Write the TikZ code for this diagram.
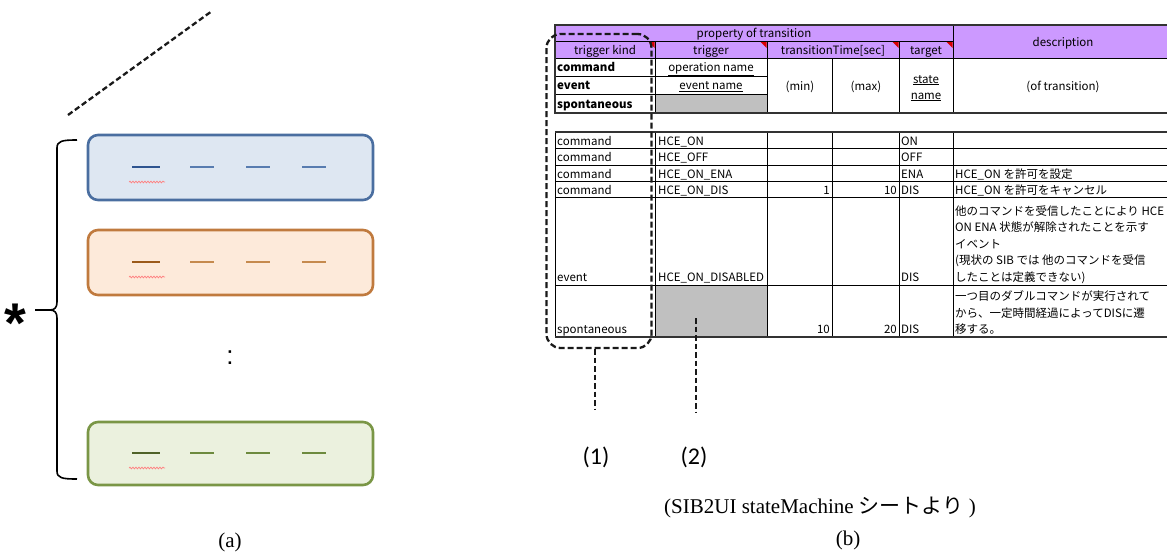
\documentclass[tikz,border=0pt]{standalone}
\usepackage{fontspec}
\setmainfont{Liberation Serif}
\newfontfamily\jpfont{Noto Sans CJK JP}
\newfontfamily\calfont{Carlito}
\newfontfamily\arialfont{Liberation Sans}
\usetikzlibrary{decorations.pathmorphing}

\definecolor{hdrfill}{RGB}{204,153,255}
\definecolor{cellgray}{RGB}{192,192,192}
\definecolor{bluefill}{RGB}{222,231,242}
\definecolor{bluedraw}{RGB}{74,110,160}
\definecolor{bluedark}{RGB}{46,84,144}
\definecolor{bluelite}{RGB}{88,124,176}
\definecolor{orfill}{RGB}{253,234,218}
\definecolor{ordraw}{RGB}{192,122,62}
\definecolor{ordark}{RGB}{155,90,26}
\definecolor{orlite}{RGB}{197,138,78}
\definecolor{grfill}{RGB}{235,241,222}
\definecolor{grdraw}{RGB}{122,150,70}
\definecolor{grdark}{RGB}{79,98,40}
\definecolor{grlite}{RGB}{109,138,62}

\tikzset{
  roundbox/.style={rounded corners=10pt, line width=2.6pt, minimum width=285pt,
    minimum height=65pt, inner sep=0pt},
  dashline/.style={line width=2.3pt, dash pattern=on 5.5pt off 3pt, draw=black!90},
  squig/.style={draw=red!50, line width=0.7pt, decorate,
    decoration={snake, amplitude=0.9pt, segment length=3pt}},
  thinrule/.style={line width=0.8pt, draw=black},
  thickrule/.style={line width=1.6pt, draw=black!80},
  cell/.style={font=\jpfont\fontsize{11.5}{13}\selectfont, inner sep=0pt},
  cellw/.style={cell, anchor=base west},
  celle/.style={cell, anchor=base east},
  cellc/.style={cell, anchor=base},
  boldcell/.style={cellw, font=\jpfont\bfseries\fontsize{11.5}{13}\selectfont},
  grpbox/.style={draw=black!90, line width=2.3pt, dash pattern=on 6pt off 3pt,
    rounded corners=14pt, minimum width=105pt, minimum height=314pt, inner sep=0pt},
  captfont/.style={font=\fontsize{21}{25}\selectfont, inner sep=0pt},
  numlabel/.style={font=\calfont\fontsize{24}{28}\selectfont, inner sep=0pt},
  corner/.style={fill=red!85!black},
}

% placeholder fields inside a record: y, dark colour, light colour
\newcommand\fieldrow[3]{%
  \draw[line width=2.6pt, #2] (132,#1) -- (160,#1);
  \foreach \xa in {190,246,302} \draw[line width=1.5pt, #3] (\xa,#1) -- ++(24,0);
  \draw[squig] (129,#1+15) -- (165,#1+15);
}

\begin{document}
\begin{tikzpicture}[x=1pt, y=-1pt]
\useasboundingbox (0,0) rectangle (1167,552);

% ---------------- (a) record list ----------------
\coordinate (diagA) at (68,115);
\coordinate (diagB) at (212,11);
\draw[dashline] (diagA) -- (diagB);

\node[roundbox, draw=bluedraw, fill=bluefill] (box1) at (230.5,167.5) {};
\node[roundbox, draw=ordraw, fill=orfill] (box2) at (230.5,262.5) {};
\node[roundbox, draw=grdraw, fill=grfill, minimum height=63pt] (box3) at (230.5,453.5) {};

\fieldrow{167}{bluedark}{bluelite}
\fieldrow{262}{ordark}{orlite}
\fieldrow{453}{grdark}{grlite}

\node[font=\arialfont\fontsize{26}{26}\selectfont, anchor=base, inner sep=0pt] (vdots) at (230,364) {:};

% brace grouping the records
\draw[line width=1.6pt] (77,140) .. controls (62,140) and (57,141) .. (57,148) -- (57,302)
  .. controls (57,307) and (55,310) .. (50,310)
  .. controls (55,310) and (57,313) .. (57,318) -- (57,471)
  .. controls (57,478) and (62,479) .. (77,479);
\draw[line width=1.6pt] (35,310) -- (50,310);
\node[font=\arialfont\bfseries\fontsize{56}{56}\selectfont, anchor=base, inner sep=0pt] (star) at (15,342) {*};

\node[captfont] (capa) at (230,542) {(a)};

% ---------------- (b) transition table ----------------
\begin{scope}
\clip (0,0) rectangle (1167,552);

% header block
\fill[hdrfill] (555,25) rectangle (1175,58);
\fill[cellgray] (655,94) rectangle (767,113);
\draw[thinrule] (555,41.5) -- (953,41.5);
\draw[thinrule] (555,58) -- (1175,58);
\draw[thinrule] (555,76) -- (767,76);
\draw[thinrule] (555,94) -- (767,94);
\foreach \xv in {655,767,899} \draw[thinrule] (\xv,41.5) -- (\xv,113);
\draw[thinrule] (832,58) -- (832,113);
\draw[thinrule] (953,25) -- (953,113);
\draw[thickrule] (555,25) rectangle (1175,113);
\foreach \xv in {655,767,899,953}
  \fill[corner] (\xv-6.5,42) -- (\xv-0.5,42) -- (\xv-0.5,48) -- cycle;

\node[cellc] (hProp) at (754,37) {property of transition};
\node[cellc] (hDesc) at (1063,46) {description};
\node[cellc] (hKind) at (605,54) {trigger kind};
\node[cellc] (hTrig) at (711,54) {trigger};
\node[cellc] (hTime) at (833,54) {transitionTime[sec]};
\node[cellc] (hTgt) at (926,54) {target};

\node[boldcell] (kCmd) at (557,71) {command};
\node[boldcell] (kEvt) at (557,89.5) {event};
\node[boldcell] (kSpo) at (557,108.5) {spontaneous};
\node[cellc] (tOp) at (711,71) {\underline{operation name}};
\node[cellc] (tEv) at (711,89.5) {\underline{event name}};
\node[cellc] (tMin) at (800,90) {(min)};
\node[cellc] (tMax) at (866,90) {(max)};
\node[cellc] (tSt1) at (926,83) {\underline{state}};
\node[cellc] (tSt2) at (926,99) {\underline{name}};
\node[cellc] (tOf) at (1063,90) {(of transition)};

% body block
\fill[cellgray] (655,285) rectangle (767,337);
\foreach \yv in {148.5,165,181.5,197.5,285} \draw[thinrule] (555,\yv) -- (1175,\yv);
\foreach \xv in {655,767,832,899,953} \draw[thinrule] (\xv,132) -- (\xv,337);
\draw[thinrule] (555,132) -- (555,337);
\draw[thickrule] (555,132) -- (1175,132);
\draw[thickrule] (555,337) -- (1175,337);

\foreach \yv/\trg/\tgt [count=\i] in
  {145/HCE\_ON/ON, 161.5/HCE\_OFF/OFF, 178/HCE\_ON\_ENA/ENA, 194.3/HCE\_ON\_DIS/DIS} {
  \node[cellw] (bKind\i) at (557,\yv) {command};
  \node[cellw] (bTrig\i) at (658,\yv) {\trg};
  \node[cellw] (bTgt\i) at (901,\yv) {\tgt};
}
\node[cellw] (bDesc3) at (955,178) {HCE\_ON を許可を設定};
\node[cellw] (bDesc4) at (955,194.3) {HCE\_ON を許可をキャンセル};
\node[celle] (bMin4) at (830,194.3) {1};
\node[celle] (bMax4) at (897,194.3) {10};

\node[cellw] (bKind5) at (557,281.5) {event};
\node[cellw] (bTrig5) at (658,281.5) {HCE\_ON\_DISABLED};
\node[cellw] (bTgt5) at (901,281.5) {DIS};
\node[cellw] (bD5a) at (955,215) {他のコマンドを受信したことにより HCE};
\node[cellw] (bD5b) at (955,231.5) {ON ENA 状態が解除されたことを示す};
\node[cellw] (bD5c) at (955,248) {イベント};
\node[cellw] (bD5d) at (955,264.5) {(現状の SIB では 他のコマンドを受信};
\node[cellw] (bD5e) at (955,281.5) {したことは定義できない)};

\node[cellw] (bKind6) at (557,333.5) {spontaneous};
\node[celle] (bMin6) at (830,333.5) {10};
\node[celle] (bMax6) at (897,333.5) {20};
\node[cellw] (bTgt6) at (901,333.5) {DIS};
\node[cellw] (bD6a) at (955,300.5) {一つ目のダブルコマンドが実行されて};
\node[cellw] (bD6b) at (955,317) {から、一定時間経過によってDISに遷};
\node[cellw] (bD6c) at (955,333.5) {移する。};
\end{scope}

% call-outs
\node[grpbox] (grp1) at (599,191) {};
\coordinate (end1) at (595,410);
\draw[dashline] ([xshift=-4pt]grp1.south) -- (end1);
\coordinate (start2) at (696,318);
\coordinate (end2) at (696,412);
\draw[dashline] (start2) -- (end2);
\node[numlabel] (lab1) at (596,457) {(1)};
\node[numlabel] (lab2) at (694,457) {(2)};

\node[captfont] (src) at (820,507) {(SIB2UI stateMachine {\jpfont シートより} )};
\node[captfont] (capb) at (848,540) {(b)};
\end{tikzpicture}
\end{document}
